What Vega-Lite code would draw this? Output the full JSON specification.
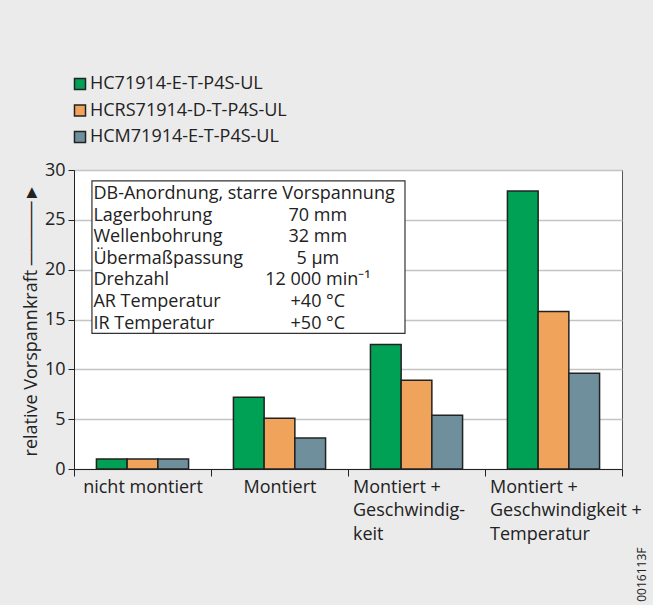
{
  "$schema": "https://vega.github.io/schema/vega-lite/v6.json",
  "width": 548,
  "height": 299,
  "autosize": {"type": "none"},
  "padding": {"left": 74, "top": 170, "right": 31, "bottom": 136},
  "background": "#ebebeb",
  "config": {
    "view": {"stroke": "#555555", "strokeWidth": 1, "fill": "white"},
    "font": "Open Sans",
    "text": {"font": "Open Sans"}
  },
  "datasets": {
    "bars": [
      {"cat": "nicht montiert", "series": "HC71914-E-T-P4S-UL", "value": 1.0},
      {"cat": "nicht montiert", "series": "HCRS71914-D-T-P4S-UL", "value": 1.0},
      {"cat": "nicht montiert", "series": "HCM71914-E-T-P4S-UL", "value": 1.0},
      {"cat": "Montiert", "series": "HC71914-E-T-P4S-UL", "value": 7.2},
      {"cat": "Montiert", "series": "HCRS71914-D-T-P4S-UL", "value": 5.1},
      {"cat": "Montiert", "series": "HCM71914-E-T-P4S-UL", "value": 3.1},
      {"cat": "Montiert +|Geschwindig-|keit", "series": "HC71914-E-T-P4S-UL", "value": 12.5},
      {"cat": "Montiert +|Geschwindig-|keit", "series": "HCRS71914-D-T-P4S-UL", "value": 8.9},
      {"cat": "Montiert +|Geschwindig-|keit", "series": "HCM71914-E-T-P4S-UL", "value": 5.4},
      {"cat": "Montiert +|Geschwindigkeit +|Temperatur", "series": "HC71914-E-T-P4S-UL", "value": 27.9},
      {"cat": "Montiert +|Geschwindigkeit +|Temperatur", "series": "HCRS71914-D-T-P4S-UL", "value": 15.8},
      {"cat": "Montiert +|Geschwindigkeit +|Temperatur", "series": "HCM71914-E-T-P4S-UL", "value": 9.6}
    ],
    "box": [
      {
        "heading": "DB-Anordnung, starre Vorspannung",
        "labels": "Lagerbohrung\nWellenbohrung\nÜbermaßpassung\nDrehzahl\nAR  Temperatur\nIR  Temperatur",
        "values": "70 mm\n32 mm\n5 µm\n12 000 min⁻¹\n+40 °C\n+50 °C",
        "code": "0016113F"
      }
    ]
  },
  "layer": [
    {
      "data": {"name": "bars"},
      "mark": {"type": "bar", "stroke": "#222222", "strokeWidth": 1.5},
      "encoding": {
        "x": {
          "field": "cat",
          "type": "nominal",
          "sort": null,
          "scale": {
            "domain": ["nicht montiert", "Montiert", "Montiert +|Geschwindig-|keit", "Montiert +|Geschwindigkeit +|Temperatur"],
            "paddingInner": 0,
            "paddingOuter": 0
          },
          "axis": {
            "title": null,
            "orient": "bottom",
            "tickBand": "extent",
            "tickSize": 7,
            "tickColor": "#222222",
            "domainColor": "#222222",
            "labelFontSize": 18,
            "labelColor": "#222222",
            "labelAngle": 0,
            "labelAlign": {"condition": {"test": "datum.value != null && indexof(datum.value, '|') >= 0", "value": "left"}, "value": "center"},
            "labelOffset": {"condition": {"test": "datum.value != null && indexof(datum.value, '|') >= 0", "value": -64}, "value": 0},
            "labelBaseline": "top",
            "labelPadding": 2,
            "labelLineHeight": 23.5,
            "labelLimit": 0,
            "labelOverlap": false,
            "labelExpr": "datum.value == null ? '' : split(datum.value, '|')",
            "grid": false
          }
        },
        "xOffset": {
          "field": "series",
          "type": "nominal",
          "sort": ["HC71914-E-T-P4S-UL", "HCRS71914-D-T-P4S-UL", "HCM71914-E-T-P4S-UL"],
          "scale": {"paddingInner": 0, "paddingOuter": 0.73}
        },
        "y": {
          "field": "value",
          "type": "quantitative",
          "scale": {"domain": [0, 30], "nice": false},
          "axis": {
            "title": "relative Vorspannkraft ─────►",
            "values": [0, 5, 10, 15, 20, 25, 30],
            "tickSize": 6,
            "tickColor": "#222222",
            "domainColor": "#222222",
            "labelFontSize": 18,
            "labelColor": "#222222",
            "labelPadding": 3,
            "grid": true,
            "gridColor": "#c4c4c4",
            "gridWidth": 1.5,
            "titleFontSize": 18,
            "titleFontWeight": "normal",
            "titleColor": "#222222",
            "titlePadding": 4
          }
        },
        "color": {
          "field": "series",
          "type": "nominal",
          "sort": ["HC71914-E-T-P4S-UL", "HCRS71914-D-T-P4S-UL", "HCM71914-E-T-P4S-UL"],
          "scale": {
            "domain": ["HC71914-E-T-P4S-UL", "HCRS71914-D-T-P4S-UL", "HCM71914-E-T-P4S-UL"],
            "range": ["#00a055", "#f0a35b", "#6f8f9d"]
          },
          "legend": {
            "title": null,
            "orient": "none",
            "legendX": -3,
            "legendY": -95,
            "symbolType": "square",
            "symbolSize": 121,
            "symbolStrokeColor": "#222222",
            "symbolStrokeWidth": 1.5,
            "symbolOpacity": 1,
            "labelFontSize": 18,
            "labelColor": "#222222",
            "labelOffset": 1,
            "labelLimit": 0,
            "rowPadding": 8.5,
            "padding": 0
          }
        }
      }
    },
    {
      "data": {"name": "box"},
      "mark": {"type": "rect", "fill": "white", "stroke": "#333333", "strokeWidth": 1.2},
      "encoding": {
        "x": {"datum": "nicht montiert", "bandPosition": 0.131},
        "x2": {"datum": "Montiert +|Geschwindig-|keit", "bandPosition": 0.416},
        "y": {"datum": 28.9, "type": "quantitative"},
        "y2": {"datum": 13.6}
      }
    },
    {
      "data": {"name": "box"},
      "mark": {"type": "text", "align": "left", "baseline": "middle", "fontSize": 18, "color": "#222222"},
      "encoding": {
        "text": {"field": "heading"},
        "x": {"datum": "nicht montiert", "bandPosition": 0.142},
        "y": {"datum": 27.6, "type": "quantitative"}
      }
    },
    {
      "data": {"name": "box"},
      "mark": {"type": "text", "align": "left", "baseline": "middle", "fontSize": 18, "lineHeight": 21.6, "lineBreak": "\n", "color": "#222222"},
      "encoding": {
        "text": {"field": "labels"},
        "x": {"datum": "nicht montiert", "bandPosition": 0.142},
        "y": {"datum": 25.43, "type": "quantitative"}
      }
    },
    {
      "data": {"name": "box"},
      "mark": {"type": "text", "align": "center", "baseline": "middle", "fontSize": 18, "lineHeight": 21.6, "lineBreak": "\n", "color": "#222222"},
      "encoding": {
        "text": {"field": "values"},
        "x": {"datum": "Montiert", "bandPosition": 0.78},
        "y": {"datum": 25.43, "type": "quantitative"}
      }
    },
    {
      "data": {"name": "box"},
      "mark": {"type": "text", "align": "center", "baseline": "middle", "fontSize": 12, "angle": 270, "color": "#222222"},
      "encoding": {
        "text": {"field": "code"},
        "x": {"datum": "Montiert +|Geschwindigkeit +|Temperatur", "bandPosition": 1.146},
        "y": {"datum": -10.6, "type": "quantitative"}
      }
    }
  ]
}
